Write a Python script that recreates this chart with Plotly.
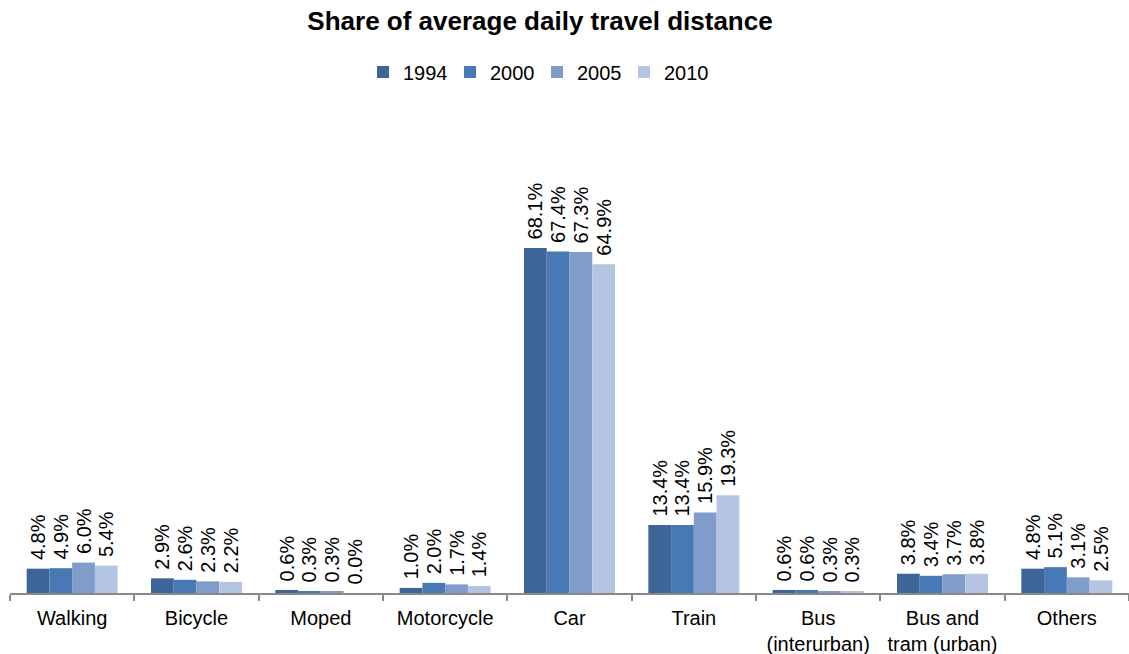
import plotly.graph_objects as go

categories = ["Walking", "Bicycle", "Moped", "Motorcycle", "Car", "Train",
              "Bus<br>(interurban)", "Bus and<br>tram (urban)", "Others"]
years = ["1994", "2000", "2005", "2010"]
share_1994 = [4.8, 2.9, 0.6, 1.0, 68.1, 13.4, 0.6, 3.8, 4.8]
share_2000 = [4.9, 2.6, 0.3, 2.0, 67.4, 13.4, 0.6, 3.4, 5.1]
share_2005 = [6.0, 2.3, 0.3, 1.7, 67.3, 15.9, 0.3, 3.7, 3.1]
share_2010 = [5.4, 2.2, 0.0, 1.4, 64.9, 19.3, 0.3, 3.8, 2.5]
series = [share_1994, share_2000, share_2005, share_2010]
colors = ["#3D6598", "#4979B4", "#7F9CCA", "#B4C4E1"]

FONT = "Liberation Sans, Arial, sans-serif"

fig = go.Figure()
for year, values, color in zip(years, series, colors):
    fig.add_trace(go.Bar(
        name=year,
        x=categories,
        y=values,
        marker=dict(color=color, line=dict(width=0)),
        # leading non-breaking space keeps a small gap between bar and label
        text=[f"&nbsp;{v:.1f}%" for v in values],
        textposition="outside",
        textangle=-90,
        constraintext="none",
        cliponaxis=False,
        textfont=dict(family=FONT, size=20, color="black"),
    ))

fig.update_layout(
    width=1129,
    height=654,
    margin=dict(l=10, r=0, t=130, b=61),
    paper_bgcolor="white",
    plot_bgcolor="white",
    barmode="group",
    bargap=0.268,
    bargroupgap=0,
    font=dict(family=FONT, size=20, color="black"),
    title=dict(
        text="<b>Share of average daily travel distance</b>",
        x=540 / 1129,
        xanchor="center",
        xref="container",
        y=1 - 21 / 654,
        yanchor="middle",
        yref="container",
        font=dict(family=FONT, size=26, color="black"),
    ),
    legend=dict(
        orientation="h",
        x=(537 - 10) / 1119,
        xanchor="center",
        y=1 + (130 - 72) / 463,
        yanchor="middle",
        font=dict(family=FONT, size=20, color="black"),
        itemwidth=30,
        entrywidth=42,
        entrywidthmode="pixels",
        bgcolor="rgba(0,0,0,0)",
    ),
)

fig.update_xaxes(
    showline=True,
    linecolor="#898989",
    linewidth=2,
    ticks="outside",
    tickson="boundaries",
    ticklen=6,
    tickcolor="#898989",
    tickwidth=2,
    tickangle=0,
    ticklabelstandoff=6,
    automargin=False,
    showgrid=False,
    tickfont=dict(family=FONT, size=20, color="black"),
)
fig.update_yaxes(
    range=[0, 463 / 5.066],
    visible=False,
    showgrid=False,
    zeroline=False,
    automargin=False,
)

fig.write_html("out.html")
